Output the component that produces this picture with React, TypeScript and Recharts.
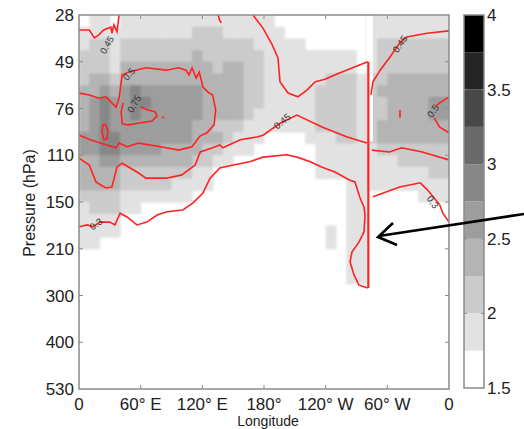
import React from "react";
import { ComposedChart, Scatter, XAxis, YAxis, BarChart, Bar } from "recharts";

// axes
const PRESSURE_LABELS = ["28", "49", "76", "110", "150", "210", "300", "400", "530"];
const PRESSURE_TICKS = [0, 1, 2, 3, 4, 5, 6, 7, 8];
const LON_TICKS = [0, 60, 120, 180, 240, 300, 360];
const LON_LABELS = ["0", "60° E", "120° E", "180°", "120° W", "60° W", "0"];

// colour bar: 1.5 .. 4 in steps of 0.25
const CBAR_BASE = 1.5;
const CBAR_STEP = 0.25;
const CBAR_TICKS = [0, 0.5, 1, 1.5, 2, 2.5];
const GRAYS = ["#ffffff", "#e2e2e2", "#cbcbcb", "#b4b4b4", "#9d9d9d", "#878787", "#6a6a6a", "#484848", "#252525", "#000000"];

// shaded field, level index per 10° longitude column, rows of 1/4 pressure-level from the top
const FIELD = [
  "0110 111111111111111 000000000 11111111",
  "111 1 1111111 222 111111 00000000 11111111",
  "122 1 2222222 222 222 111 11 00000 0 1 2222222",
  "222 1 2222222 322 222 2 111 111111 0 1 2222222",
  "2221 3333333 33 2 33 22 11 1111 111 0 1 2222222",
  "2332 3333333 333 33 22 111111 222 1 2 2 333333",
  "3343 4544444 43333 22 11111 2222 1 2 3333333",
  "3454 4554444 43333 22 11111 2222 1 2 2 3333 44",
  "3454 4544444 43333 211 1111 2222 1 22 3333 44",
  "3454 4444444 33222 111 1111 2222 1 2 33333 33",
  "4455 4444444 333 2 11 1 0000 1 1 1 22 1 2 3333333",
  "4455 4444333 322 1 11 000000 1111 1 1 22222 22",
  "3344 3333333 22 11 00000000 1111 1 1 11 22222",
  "3333 2222222 11 0000000000 1111 1 1 11111 22",
  "3333 22222 1111 0000000000 000 1 1 11111111",
  "2222 111111 1 0 00000000000000 11 00000 111",
  "1222 11 00000000000000000000 11 00000000",
  "1111 0000000000000000000000 11 00000000",
  "1111 00000000000000000000 1 0 11 00000000",
  "1100 00000000000000000000 1 0 11 00000000",
  "00000000000000000000000000 11 00000000",
  "00000000000000000000000000 11 00000000",
  "00000000000000000000000000 11 00000000",
];

// red contours, [longitude, pressure-level index]
const C045_NW = [[0, 0.32], [10, 0.32], [15, 0.49], [19, 0.43], [24, 0.32], [31, 0.26], [32, 0.39], [34, 0.21], [37, 0.36], [39, 0]];
const C05_W = [[0, 1.67], [10, 1.71], [19.5, 1.78], [26, 1.75], [32, 1.88], [36, 1.97], [39, 1.78], [42, 1.28], [48.6, 1.22], [65, 1.13], [85, 1.18], [97, 1.13], [104, 1.18], [107, 1.28], [110, 1.13], [114, 1.35], [117, 1.22], [120.6, 1.54], [125.5, 1.65], [130, 1.71], [133, 2.03], [131.4, 2.35], [124.5, 2.52], [117.7, 2.59], [110, 2.82], [97, 2.89], [85, 2.84], [58, 2.74], [47, 2.82], [39, 2.74], [36, 2.84], [27, 2.78], [11, 2.67], [0, 2.57]];
const C075 = [[60, 1.97], [67, 2.03], [74, 2.07], [76, 2.16], [71, 2.27], [59, 2.31], [48, 2.35], [42, 2.33], [41, 2.07], [43, 1.88]];
const C0_LOOP = [[25.3, 2.33], [28.2, 2.46], [27.2, 2.65], [24.3, 2.67], [22.4, 2.5], [23.3, 2.35], [25.3, 2.33]];
const C045_S_W = [[0, 3.06], [10, 3.21], [16.5, 3.57], [26, 3.7], [32, 3.68], [37, 3.25], [42, 3.17], [58, 3.38], [65, 3.49], [85, 3.49], [100, 3.42], [113, 3.21], [118, 2.93], [130, 2.84], [137, 2.78], [140, 2.84], [157, 2.67], [173, 2.61], [179, 2.57], [196, 2.31], [212, 2.14], [237, 2.4], [261, 2.61], [280, 2.74]];
const C045_S_E = [[285, 2.89], [302, 2.93], [314, 2.84], [334, 2.93], [360, 3.1]];
const C03_W = [[0, 4.53], [8, 4.49], [13.6, 4.53], [20.4, 4.43], [30, 4.43], [35, 4.49], [40, 4.24], [46.7, 4.32], [56.4, 4.49], [66, 4.43], [76, 4.28], [85.6, 4.21], [101, 4.17], [111, 4.02], [120.6, 3.81], [127.5, 3.49], [137, 3.27], [150, 3.21], [166, 3.14], [179, 3.04], [202, 2.99], [212, 3.04], [225, 3.14], [236, 3.25], [249, 3.36], [263, 3.53], [268.5, 3.57], [273.4, 3.91], [277.3, 4.11], [278.3, 4.28], [277.3, 4.64], [272.4, 4.86], [265.6, 5.07], [263.7, 5.28], [267.6, 5.56], [272.4, 5.78], [281, 5.84]];
const C03_E = [[286, 3.89], [296, 3.81], [312, 3.68], [332, 3.59], [339, 3.74], [351, 4.06], [354, 4.24], [360, 4.43]];
const C045_N_MID = [[169.3, 0], [179, 0.28], [188, 0.64], [193.6, 0.92], [195.6, 1.43], [203.4, 1.67], [213, 1.75], [222, 1.6], [229.6, 1.43], [240, 1.37], [251, 1.26], [270.5, 1.09], [281, 1.0]];
const C045_N_E = [[284, 1.71], [286, 1.43], [293, 1.18], [302.6, 0.9], [312, 0.6], [319, 0.47], [338.6, 0.39], [360, 0.34]];
const C05_E1 = [[360, 1.75], [351, 1.88], [347, 1.95]];
const C05_E2 = [[345.4, 2.2], [351, 2.4], [360, 2.52]];
const SPIKE = [[281.5, 1.0], [281.5, 5.84]];
const BITS = [
  [[312.3, 2.03], [312.3, 2.2]],
  [[135.5, 0], [136.5, 0.1], [138.5, 0.17]],
  [[81, 2.18], [83, 2.2]],
];
const WHITE_STRIPE = [[283, 0], [283, 2.7]];

const CONTOUR_LABELS = [
  { lon: 27, p: 0.64, text: "0.45", angle: -60 },
  { lon: 48.6, p: 1.26, text: "0.5", angle: -50 },
  { lon: 53.5, p: 1.9, text: "0.75", angle: -60 },
  { lon: 197.5, p: 2.27, text: "0.45", angle: -40 },
  { lon: 312.3, p: 0.62, text: "0.45", angle: -55 },
  { lon: 344.4, p: 2.05, text: "0.5", angle: -55 },
  { lon: 16.5, p: 4.47, text: "0.3", angle: -35 },
  { lon: 344.4, p: 4.0, text: "0.3", angle: 55 },
];

const RED = "#f22";
const FONT = '"Liberation Sans", Arial, Helvetica, sans-serif';
const AXIS_GRAY = "#8a8a8a";

const W = 524;
const H = 429;
const PLOT_L = 79;
const PLOT_T = 15;
const PLOT_W = 370;
const PLOT_H = 374;
const CBAR_L = 464;
const CBAR_W = 20;
const CBAR_H = 373;
const NCOL = 36;
const ROWS_PER_LEVEL = 4;
const CELL_W = PLOT_W / NCOL;
const CELL_H = PLOT_H / (8 * ROWS_PER_LEVEL);

const cells: { lon: number; p: number; v: number }[] = [];
FIELD.forEach((row, r) => {
  const s = row.replace(/\s/g, "").padEnd(NCOL, "0").slice(0, NCOL);
  for (let c = 0; c < NCOL; c++) {
    const v = Number(s[c]);
    if (v > 0) cells.push({ lon: c * 10 + 5, p: (r + 0.5) / ROWS_PER_LEVEL, v });
  }
});

const toPts = (arr: number[][]) => arr.map(([lon, p]) => ({ lon, p }));

const redLines = [C045_NW, C05_W, C075, C0_LOOP, C045_S_W, C045_S_E, C03_W, C03_E, C045_N_MID, C045_N_E, C05_E1, C05_E2, ...BITS];

const cbarRow: Record<string, number | string> = { name: "cb" };
GRAYS.forEach((_, i) => (cbarRow[`b${i}`] = CBAR_STEP));

const renderCell = (props: any) => {
  const { cx, cy, payload } = props;
  return (
    <rect
      x={cx - CELL_W / 2}
      y={cy - CELL_H / 2}
      width={CELL_W + 0.6}
      height={CELL_H + 0.6}
      fill={GRAYS[payload.v]}
    />
  );
};

const renderLabel = (props: any) => {
  const { cx, cy, payload } = props;
  return (
    <text
      x={cx}
      y={cy}
      transform={`rotate(${payload.angle} ${cx} ${cy})`}
      textAnchor="middle"
      dominantBaseline="central"
      fontSize={9.5}
      fontFamily={FONT}
      fill="#333"
    >
      {payload.text}
    </text>
  );
};

const noDot = () => <g />;

const tickStyle = { fontSize: 17, fill: "#222", fontFamily: FONT };

// frame ticks (inward, matlab style)
const lonX = (lon: number) => PLOT_L + (lon / 360) * PLOT_W;
const levY = (i: number) => PLOT_T + (i / 8) * PLOT_H;
const cbY = (v: number) => PLOT_T + CBAR_H - (v / 2.5) * CBAR_H;

export default function App() {
  return (
    <div style={{ position: "absolute", left: 0, top: 0, width: W, height: H, background: "#fff", overflow: "hidden" }}>
      <style>{`.field-cells { filter: blur(1.3px); }`}</style>
      <div style={{ position: "absolute", left: 0, top: 0 }}>
        <ComposedChart width={W} height={H} margin={{ top: 15, right: 75, bottom: 10, left: 19 }}>
          <Scatter className="field-cells" data={cells} shape={renderCell} isAnimationActive={false} />
          <Scatter
            data={toPts(WHITE_STRIPE)}
            line={{ stroke: "#fff", strokeWidth: 6 }}
            shape={noDot}
            isAnimationActive={false}
          />
          {redLines.map((pts, i) => (
            <Scatter
              key={i}
              data={toPts(pts)}
              line={{ stroke: RED, strokeWidth: 1.6 }}
              shape={noDot}
              isAnimationActive={false}
            />
          ))}
          <Scatter
            data={toPts(SPIKE)}
            line={{ stroke: RED, strokeWidth: 2.2 }}
            shape={noDot}
            isAnimationActive={false}
          />
          <Scatter data={CONTOUR_LABELS} shape={renderLabel} isAnimationActive={false} />
          <XAxis
            type="number"
            dataKey="lon"
            domain={[0, 360]}
            ticks={LON_TICKS}
            interval={0}
            allowDataOverflow
            tickFormatter={(v: number) => LON_LABELS[LON_TICKS.indexOf(v)]}
            tick={tickStyle}
            tickLine={false}
            axisLine={false}
            tickSize={0}
            tickMargin={9}
            height={30}
          />
          <YAxis
            type="number"
            dataKey="p"
            domain={[0, 8]}
            reversed
            ticks={PRESSURE_TICKS}
            interval={0}
            allowDataOverflow
            tickFormatter={(v: number) => PRESSURE_LABELS[v]}
            tick={tickStyle}
            tickLine={false}
            axisLine={false}
            tickSize={0}
            tickMargin={5}
            width={60}
          />
        </ComposedChart>
      </div>

      <div style={{ position: "absolute", left: 455, top: 0 }}>
        <BarChart width={69} height={H} data={[cbarRow]} margin={{ top: 15, right: 4, bottom: 41, left: 9 }} barCategoryGap={0}>
          {GRAYS.map((g, i) => (
            <Bar key={i} dataKey={`b${i}`} stackId="cb" fill={g} isAnimationActive={false} />
          ))}
          <XAxis dataKey="name" type="category" hide />
          <YAxis
            orientation="right"
            type="number"
            domain={[0, 2.5]}
            ticks={CBAR_TICKS}
            interval={0}
            tickFormatter={(v: number) => String(v + CBAR_BASE)}
            tick={tickStyle}
            tickLine={false}
            axisLine={false}
            tickSize={0}
            tickMargin={3}
            width={36}
          />
        </BarChart>
      </div>

      <svg width={W} height={H} style={{ position: "absolute", left: 0, top: 0, pointerEvents: "none" }}>
        <g stroke={AXIS_GRAY} fill="none">
          <rect x={PLOT_L} y={PLOT_T} width={PLOT_W} height={PLOT_H} strokeWidth={1.5} />
          {LON_TICKS.slice(1, -1).map((t) => (
            <g key={`x${t}`}>
              <line x1={lonX(t)} x2={lonX(t)} y1={PLOT_T + PLOT_H} y2={PLOT_T + PLOT_H - 4} />
              <line x1={lonX(t)} x2={lonX(t)} y1={PLOT_T} y2={PLOT_T + 4} />
            </g>
          ))}
          {PRESSURE_TICKS.slice(1, -1).map((t) => (
            <g key={`y${t}`}>
              <line x1={PLOT_L} x2={PLOT_L + 4} y1={levY(t)} y2={levY(t)} />
              <line x1={PLOT_L + PLOT_W} x2={PLOT_L + PLOT_W - 4} y1={levY(t)} y2={levY(t)} />
            </g>
          ))}
          <rect x={CBAR_L} y={PLOT_T} width={CBAR_W} height={CBAR_H} strokeWidth={1.5} />
          {CBAR_TICKS.slice(1, -1).map((t) => (
            <g key={`c${t}`}>
              <line x1={CBAR_L} x2={CBAR_L + 3} y1={cbY(t)} y2={cbY(t)} />
              <line x1={CBAR_L + CBAR_W} x2={CBAR_L + CBAR_W - 3} y1={cbY(t)} y2={cbY(t)} />
            </g>
          ))}
        </g>
        <text x={268} y={426} textAnchor="middle" fontSize={14} fontFamily={FONT} fill="#222">
          Longitude
        </text>
        <text
          x={35}
          y={203}
          textAnchor="middle"
          fontSize={16}
          fontFamily={FONT}
          fill="#222"
          transform="rotate(-90 35 203)"
        >
          Pressure (hPa)
        </text>
        <line x1={524} y1={214} x2={379} y2={236} stroke="#000" strokeWidth={2.6} />
        <polyline points="393,223 378,237 397,245" fill="none" stroke="#000" strokeWidth={2.6} strokeLinejoin="miter" />
      </svg>
    </div>
  );
}
